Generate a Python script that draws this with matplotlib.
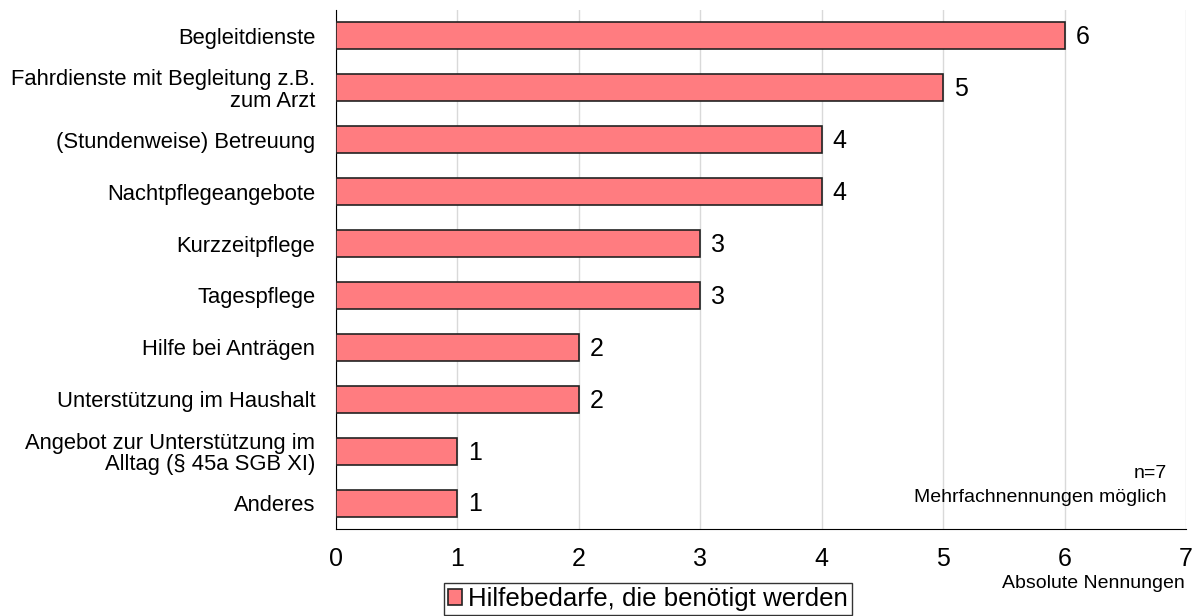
import numpy as np
import matplotlib.pyplot as plt

plt.rcParams['font.family'] = ['Liberation Sans', 'DejaVu Sans']

categories = ['Begleitdienste',
              'Fahrdienste mit Begleitung z.B.\nzum Arzt',
              '(Stundenweise) Betreuung',
              'Nachtpflegeangebote',
              'Kurzzeitpflege',
              'Tagespflege',
              'Hilfe bei Anträgen',
              'Unterstützung im Haushalt',
              'Angebot zur Unterstützung im\nAlltag (§ 45a SGB XI)',
              'Anderes']
values = [6, 5, 4, 4, 3, 3, 2, 2, 1, 1]
series_label = 'Hilfebedarfe, die benötigt werden'

fig = plt.figure(figsize=(12.04, 6.16), dpi=100)
ax = fig.add_axes([336 / 1204, 1 - 529 / 616, (1186 - 336) / 1204, (529 - 10) / 616])

y = np.arange(len(categories))
bars = ax.barh(y, values, height=0.52, color='#FF7C80', edgecolor='#222222',
               linewidth=1.2, label=series_label, zorder=3)

for yi, v in zip(y, values):
    ax.annotate(str(v), (v, yi), xytext=(8, -1), textcoords='offset points',
                va='center', ha='left', fontsize=18)

ax.set_ylim(len(categories) - 0.5, -0.5)
ax.set_xlim(0, 7)
ax.set_xticks(range(0, 8))
ax.set_yticks(y)
ax.set_yticklabels(categories, fontsize=15.8, linespacing=1.05)
ax.tick_params(axis='x', labelsize=18, length=0, pad=13)
ax.tick_params(axis='y', length=0, pad=15)

ax.grid(axis='x', color='#d9d9d9', linewidth=1, zorder=0)
for s in ['top', 'right']:
    ax.spines[s].set_visible(False)
ax.spines['left'].set_color('black')
ax.spines['bottom'].set_color('black')

fig.text(1167 / 1204, 1 - 473 / 616, 'n=7', ha='right', va='center', fontsize=14)
fig.text(1167 / 1204, 1 - 497 / 616, 'Mehrfachnennungen möglich',
         ha='right', va='center', fontsize=14)
fig.text(1185 / 1204, 1 - 583 / 616, 'Absolute Nennungen', ha='right', va='center', fontsize=14)

leg = fig.legend(loc='upper center', bbox_to_anchor=(648 / 1204, 1 - 583 / 616), fontsize=18.6,
                 frameon=True, fancybox=False, edgecolor='black', handlelength=0.55,
                 handleheight=0.55, handletextpad=0.25, borderpad=0.15, borderaxespad=0)
leg.get_frame().set_linewidth(1.0)

fig.savefig('out.png', dpi=100)
